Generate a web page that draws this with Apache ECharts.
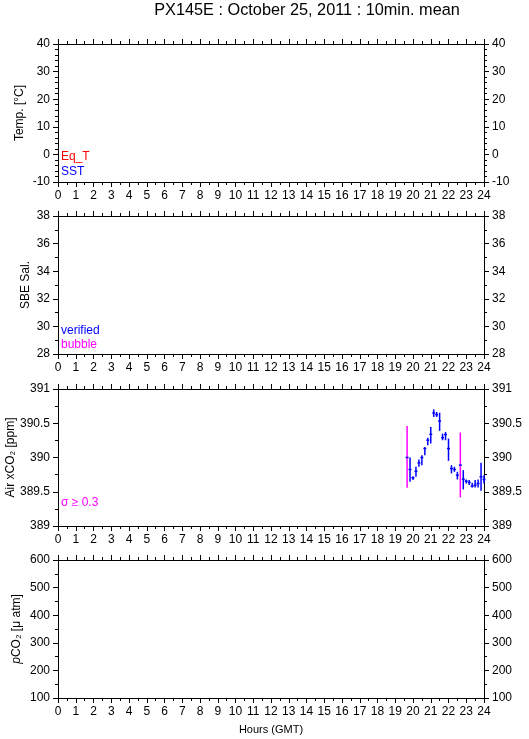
<!DOCTYPE html>
<html><head><meta charset="utf-8">
<script src="https://cdn.jsdelivr.net/npm/echarts@6/dist/echarts.min.js"></script>
<style>html,body{margin:0;padding:0;background:#fff}#c{width:529px;height:739px}</style>
</head><body><div id="c"></div>
<script>
// ---- data ----
const hourTicks = [0,1,2,3,4,5,6,7,8,9,10,11,12,13,14,15,16,17,18,19,20,21,22,23,24];
const times = [19.667,19.833,20.000,20.167,20.333,20.500,20.667,20.833,21.000,21.167,21.333,21.500,21.667,21.833,22.000,22.167,22.333,22.500,22.667,22.833,23.000,23.167,23.333,23.500,23.667,23.833,24.000];
const xco2Mean = [390.00,389.825,389.704,389.80,389.922,390.00,390.131,390.252,390.339,390.65,390.626,390.533,390.29,390.334,390.131,389.839,389.825,389.742,389.888,389.684,389.655,389.636,389.582,389.597,389.621,389.718,389.679];
const xco2Lo = [389.56,389.645,389.67,389.718,389.864,389.888,390.034,390.179,390.203,390.592,390.592,390.388,390.252,390.252,389.951,389.767,389.791,389.679,389.418,389.534,389.621,389.597,389.563,389.563,389.563,389.514,389.621];
const xco2Hi = [390.46,390.00,389.728,389.864,389.97,390.034,390.155,390.29,390.446,390.703,390.665,390.654,390.349,390.373,390.276,389.888,389.864,389.791,390.364,389.815,389.679,389.67,389.631,389.67,389.679,389.922,389.742];
const xco2SigmaFlag = [1,0,0,0,0,0,0,0,0,0,0,0,0,0,0,0,0,0,1,0,0,0,0,0,0,0,0];
const panelNames = ['Temp. [°C]','SBE Sal.','Air xCO₂ [ppm]','{it|p}CO₂ [μ atm]'];
const panelMin = [-10,28,389,100];
const panelMax = [40,38,391,600];
const panelInterval = [10,2,0.5,100];
const panelMinorSplit = [5,2,2,2];

// ---- layout ----
const FONT = 'Liberation Sans';
const tops = [44,216,389,560];
const heights = [138,138,137,138];
const nameGaps = [32,26,41,35];
const chart = echarts.init(document.getElementById('c'));
const grid = [], xAxis = [], yAxis = [];
for (let i = 0; i < 4; i++) {
  grid.push({left:58, width:426, top:tops[i], height:heights[i], show:false, containLabel:false, outerBoundsMode:'none'});
  const xBase = {
    type:'value', gridIndex:i, min:hourTicks[0], max:hourTicks[hourTicks.length-1], interval:1,
    axisLine:{show:true, onZero:false, lineStyle:{color:'#000', width:1}},
    axisTick:{show:true, length:5, lineStyle:{color:'#000'}},
    minorTick:{show:true, splitNumber:2, length:3, lineStyle:{color:'#000'}},
    splitLine:{show:false}
  };
  xAxis.push(Object.assign({}, xBase, {position:'bottom',
    axisLabel:{show:true, margin:8, color:'#000', fontFamily:FONT, fontSize:12},
    name: i===3 ? 'Hours (GMT)' : '', nameLocation:'middle', nameGap:26, nameMoveOverlap:false,
    nameTextStyle:{color:'#000', fontFamily:FONT, fontSize:11}}));
  xAxis.push(Object.assign({}, xBase, {position:'top', axisLabel:{show:false}}));
  const yBase = {
    type:'value', gridIndex:i, min:panelMin[i], max:panelMax[i], interval:panelInterval[i],
    axisLine:{show:true, onZero:false, lineStyle:{color:'#000', width:1}},
    axisTick:{show:true, length:5, lineStyle:{color:'#000'}},
    minorTick:{show:true, splitNumber:panelMinorSplit[i], length:3, lineStyle:{color:'#000'}},
    splitLine:{show:false},
    axisLabel:{show:true, margin:8, color:'#000', fontFamily:FONT, fontSize:12}
  };
  yAxis.push(Object.assign({}, yBase, {position:'left',
    name:panelNames[i], nameLocation:'middle', nameGap:nameGaps[i], nameRotate:90, nameMoveOverlap:false,
    nameTextStyle:{color:'#000', fontFamily:FONT, fontSize:12,
      rich:{it:{fontStyle:'italic', fontFamily:FONT, fontSize:12, color:'#000'}}}}));
  yAxis.push(Object.assign({}, yBase, {position:'right'}));
}

const xco2Data = times.map((t,k) => [t, xco2Mean[k], xco2Lo[k], xco2Hi[k], xco2SigmaFlag[k]]);

function txt(x, y, s, color) {
  return {type:'text', left:x, top:y, style:{text:s, fill:color, font:'12px "'+FONT+'"'}};
}

chart.setOption({
  animation:false,
  backgroundColor:'#fff',
  grid, xAxis, yAxis,
  graphic:[
    {type:'text', x:307, y:3, style:{text:'PX145E : October 25, 2011 : 10min. mean', fill:'#000',
      font:'16.3px "'+FONT+'"', textAlign:'center', textVerticalAlign:'top'}},
    txt(61,151,'Eq_T','#ff0000'),
    txt(61,166,'SST','#0000ff'),
    txt(61,325,'verified','#0000ff'),
    txt(61,339,'bubble','#ff00ff'),
    txt(61,497,'σ ≥ 0.3','#ff00ff')
  ],
  series:[{
    type:'custom', xAxisIndex:4, yAxisIndex:4, data:xco2Data, clip:false,
    encode:{x:0, y:1},
    renderItem:(params, api) => {
      const t = api.value(0), m = api.value(1), lo = api.value(2), hi = api.value(3), f = api.value(4);
      const pL = api.coord([t - 5/60, m]), pR = api.coord([t + 5/60, m]);
      const pLo = api.coord([t, lo]), pHi = api.coord([t, hi]);
      return {type:'group', children:[
        {type:'line', shape:{x1:pLo[0], y1:pLo[1], x2:pHi[0], y2:pHi[1]}, style:{stroke: f ? '#ff00ff' : '#0000ff', lineWidth:1.5}},
        {type:'line', shape:{x1:pL[0], y1:pL[1], x2:pR[0], y2:pR[1]}, style:{stroke:'#0000ff', lineWidth:1.5}}
      ]};
    }
  }]
});
</script></body></html>
